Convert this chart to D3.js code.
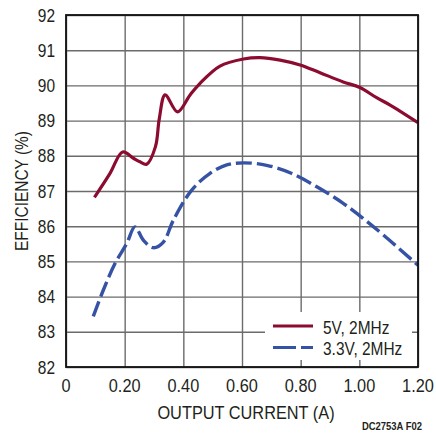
<!DOCTYPE html>
<html>
<head>
    <script type="text/javascript" src="https://cdn.jsdelivr.net/npm/d3@7"></script>
    <style type="text/css">
    	body { margin: 0; background: #fff; }
    	text { font-family: "Liberation Sans", Arial, sans-serif; fill: #231f20; }
    </style>
</head>
<body>
<div id="chart"></div>
<script type="text/javascript">

// x = output current (A), y = efficiency (%)
var current5V = [0.097, 0.15, 0.193, 0.23, 0.252, 0.275, 0.305, 0.318, 0.338, 0.38, 0.423, 0.457, 0.525, 0.605, 0.661, 0.73, 0.798, 0.866, 0.945, 1.002, 1.059, 1.105, 1.20];
var eff5V     = [86.82, 87.5, 88.11, 87.93, 87.83, 87.76, 88.26, 89.05, 89.73, 89.25, 89.73, 90.06, 90.55, 90.75, 90.79, 90.72, 90.58, 90.36, 90.10, 89.94, 89.65, 89.44, 88.94];

var current33V = [0.093, 0.127, 0.167, 0.207, 0.235, 0.264, 0.298, 0.332, 0.366, 0.428, 0.491, 0.548, 0.605, 0.684, 0.764, 0.855, 0.945, 1.013, 1.082, 1.20];
var eff33V     = [83.44, 84.18, 84.94, 85.51, 85.98, 85.60, 85.39, 85.55, 86.17, 87.02, 87.5, 87.74, 87.80, 87.73, 87.52, 87.12, 86.65, 86.22, 85.75, 84.89];

var xTicks = [0, 0.2, 0.4, 0.6, 0.8, 1.0, 1.2];
var yTicks = [82, 83, 84, 85, 86, 87, 88, 89, 90, 91, 92];
var seriesNames = ["5V, 2MHz", "3.3V, 2MHz"];
var seriesColors = ["#8b0c30", "#3652a5"];

var width = 436, height = 434;
var plotL = 66, plotR = 418, plotT = 15, plotB = 367;

var x = d3.scaleLinear().domain([0, 1.2]).range([plotL, plotR]);
var y = d3.scaleLinear().domain([82, 92]).range([plotB, plotT]);

var svg = d3.select("#chart").append("svg")
			.attr("width", width)
			.attr("height", height);

// narrow text: the original uses a condensed face, so squeeze Liberation Sans
function label(px, py, str, size, anchor, rot) {
	return svg.append("text")
		.attr("transform", "translate(" + px + "," + py + ")" + (rot ? " rotate(" + rot + ")" : "") + " scale(0.86,1)")
		.attr("text-anchor", anchor || "start")
		.attr("font-size", size + "px")
		.text(str);
}

// grid
svg.append("g")
	.attr("transform", "translate(0," + plotB + ")")
	.call(d3.axisBottom(x).tickValues(xTicks).tickSize(-(plotB - plotT)).tickFormat(""))
	.call(function (g) { g.select(".domain").remove(); })
	.selectAll("line").attr("stroke", "#6b6b6b").attr("stroke-width", 1.4);

svg.append("g")
	.attr("transform", "translate(" + plotL + ",0)")
	.call(d3.axisLeft(y).tickValues(yTicks).tickSize(-(plotR - plotL)).tickFormat(""))
	.call(function (g) { g.select(".domain").remove(); })
	.selectAll("line").attr("stroke", "#6b6b6b").attr("stroke-width", 1.4);

// tick labels
xTicks.forEach(function (d) {
	label(x(d), 392, d === 0 ? "0" : d.toFixed(2), 19, "middle");
});
yTicks.forEach(function (d) {
	label(55, y(d) + 6.5, d, 18, "end");
});

// axis titles
label(246, 419, "OUTPUT CURRENT (A)", 19, "middle");
label(28, 191, "EFFICIENCY (%)", 18, "middle", -90);
label(422, 430, "DC2753A F02", 11, "end").attr("font-weight", "bold");

// curves
var line = d3.line()
	.x(function (d) { return x(d[0]); })
	.y(function (d) { return y(d[1]); })
	.curve(d3.curveCatmullRom.alpha(0.5));

svg.append("path")
	.datum(d3.zip(current5V, eff5V))
	.attr("d", line)
	.attr("fill", "none")
	.attr("stroke", seriesColors[0])
	.attr("stroke-width", 3.2);

svg.append("path")
	.datum(d3.zip(current33V, eff33V))
	.attr("d", line)
	.attr("fill", "none")
	.attr("stroke", seriesColors[1])
	.attr("stroke-width", 3.4)
	.attr("stroke-dasharray", "16,5");

// legend
svg.append("rect")
	.attr("x", 265).attr("y", 312)
	.attr("width", 147).attr("height", 48)
	.attr("fill", "#fff");

seriesNames.forEach(function (name, i) {
	var ly = i === 0 ? 326 : 347.5;
	svg.append("line")
		.attr("x1", 273).attr("x2", 313)
		.attr("y1", ly).attr("y2", ly)
		.attr("stroke", seriesColors[i])
		.attr("stroke-width", 3.2)
		.attr("stroke-dasharray", i === 0 ? null : "23,5");
	label(323, ly + 7.5, name, 18, "start");
});

// frame
svg.append("rect")
	.attr("x", plotL).attr("y", plotT)
	.attr("width", plotR - plotL).attr("height", plotB - plotT)
	.attr("fill", "none")
	.attr("stroke", "#111")
	.attr("stroke-width", 1.8);

</script>
</body>
</html>
